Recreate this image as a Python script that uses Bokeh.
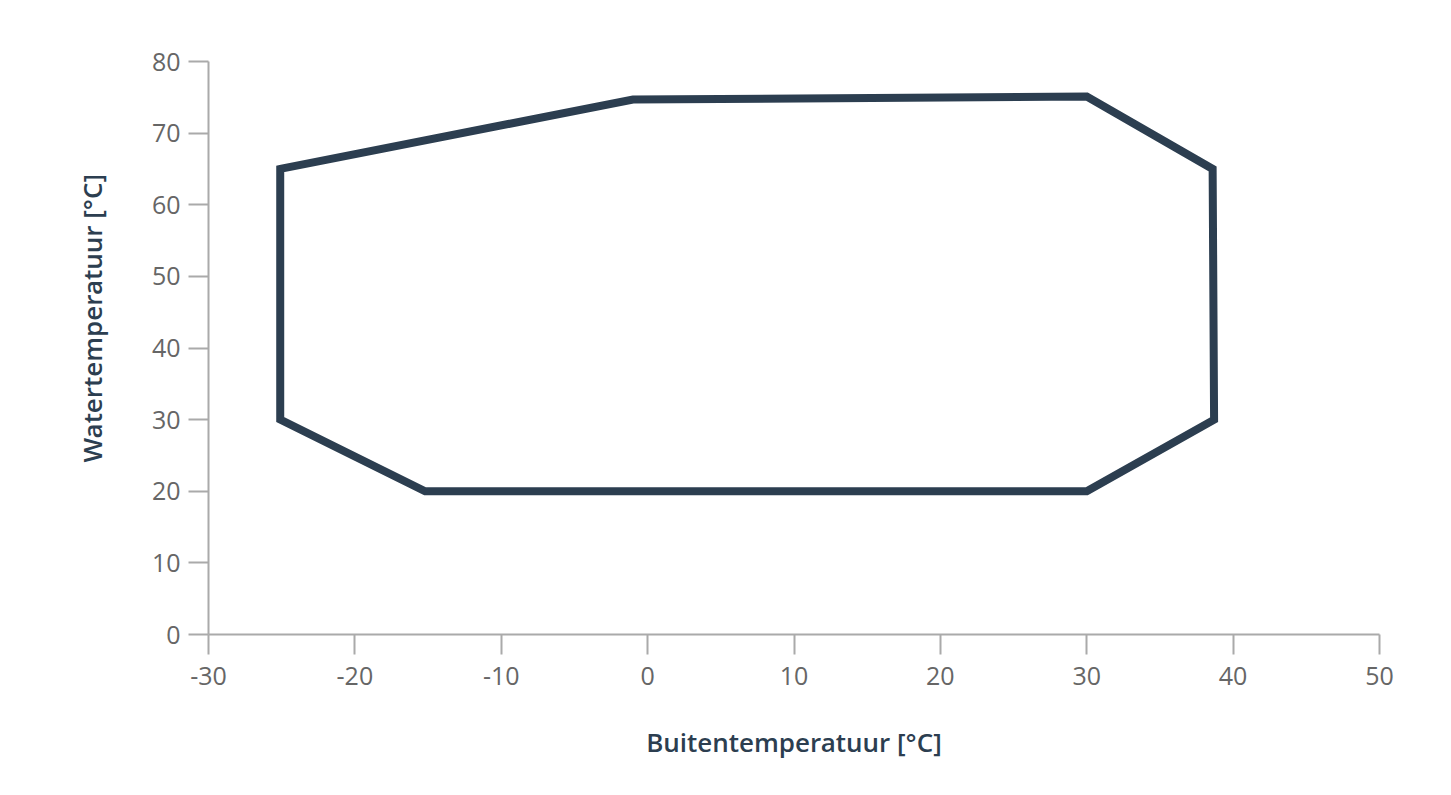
from bokeh.plotting import figure
from bokeh.models import Range1d, Title, FixedTicker
from bokeh.embed import file_html
from bokeh.resources import INLINE

# Data: operating envelope (outdoor temp vs water temp), closed polygon
outdoor_temp = [-25.1, -1.0, 30.0, 38.6, 38.7, 30.0, -15.2, -25.1]
water_temp = [65.0, 74.7, 75.1, 65.0, 30.0, 20.0, 20.0, 30.0]
x_ticks = [-30, -20, -10, 0, 10, 20, 30, 40, 50]
y_ticks = [0, 10, 20, 30, 40, 50, 60, 70, 80]
x_title = "Buitentemperatuur [°C]"
y_title = "Watertemperatuur [°C]"

FONT = "Open Sans"
TITLE_FONT = "Open Sans SemiBold, Open Sans"
DARK = "#2c3e50"
AXIS = "#aaaaaa"
TICKLBL = "#666666"

p = figure(frame_width=1171, frame_height=573,
           x_range=Range1d(-30, 50), y_range=Range1d(0, 80),
           output_backend="svg", toolbar_location=None,
           min_border_left=208, min_border_right=56,
           min_border_top=61, min_border_bottom=140)
p.outline_line_color = None
p.grid.grid_line_color = None
p.background_fill_color = "white"
p.border_fill_color = "white"

for ax, ticks in ((p.xaxis[0], x_ticks), (p.yaxis[0], y_ticks)):
    ax.ticker = FixedTicker(ticks=ticks)
    ax.major_label_overrides = {t: str(t) for t in ticks}
    ax.axis_line_color = AXIS
    ax.axis_line_width = 2
    ax.major_tick_line_color = AXIS
    ax.major_tick_line_width = 2
    ax.major_tick_in = 0
    ax.major_tick_out = 20
    ax.minor_tick_line_color = None
    ax.major_label_text_font = FONT
    ax.major_label_text_font_size = "25px"
    ax.major_label_text_color = TICKLBL

p.xaxis.major_label_standoff = 12
p.yaxis.major_label_standoff = 8

p.xaxis.axis_label = x_title
p.xaxis.axis_label_text_font = TITLE_FONT
p.xaxis.axis_label_text_font_size = "26px"
p.xaxis.axis_label_text_font_style = "normal"
p.xaxis.axis_label_text_color = DARK
p.xaxis.axis_label_standoff = 36

p.add_layout(Title(text=y_title, align="left", offset=172, standoff=77,
                   text_font=TITLE_FONT, text_font_size="26px",
                   text_font_style="normal", text_color=DARK), "left")

p.patch(outdoor_temp, water_temp, fill_alpha=0, line_color=DARK,
        line_width=8, line_join="miter")

open("out.html", "w").write(file_html(p, INLINE))
